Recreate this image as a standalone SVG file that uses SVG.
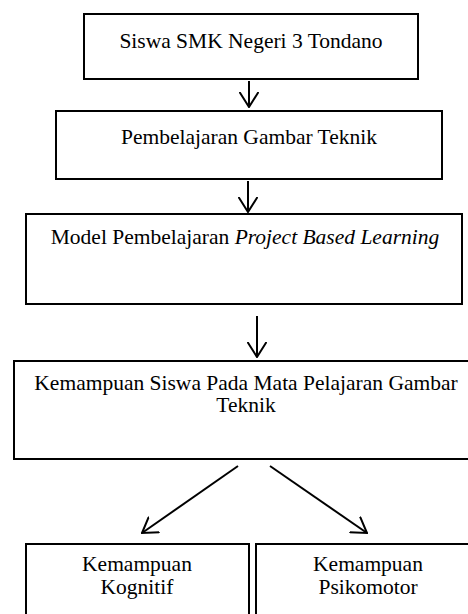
<svg xmlns="http://www.w3.org/2000/svg" width="468" height="614" viewBox="0 0 468 614">
  <defs>
    <style>
      .box { fill: #ffffff; stroke: #000000; stroke-width: 2; }
      .t { font-size: 21.5px; fill: #000000; text-anchor: middle; }
      .conn { stroke: #000000; stroke-width: 2; fill: none; }
    </style>
    <marker id="arr" viewBox="0 0 16 20" refX="15" refY="10" markerWidth="16" markerHeight="20" markerUnits="userSpaceOnUse" orient="auto">
      <path d="M0,0.5 L15,10 L0,19.5" fill="none" stroke="#000" stroke-width="2"/>
    </marker>
  </defs>
  <rect width="468" height="614" fill="#ffffff"/>

  <g font-family="Liberation Serif, DejaVu Serif, serif">
  <g id="n1">
    <rect class="box" x="84" y="14" width="334" height="65"/>
    <text class="t" x="251" y="48">Siswa SMK Negeri 3 Tondano</text>
  </g>
  <g id="n2">
    <rect class="box" x="56" y="111" width="386" height="68"/>
    <text class="t" x="249" y="144">Pembelajaran Gambar Teknik</text>
  </g>
  <g id="n3">
    <rect class="box" x="26" y="214" width="436" height="90"/>
    <text class="t" x="245" y="244">Model Pembelajaran <tspan font-style="italic">Project Based Learning</tspan></text>
  </g>
  <g id="n4">
    <rect class="box" x="14" y="361" width="466" height="98"/>
    <text class="t" x="246" y="390">Kemampuan Siswa Pada Mata Pelajaran Gambar</text>
    <text class="t" x="246" y="412">Teknik</text>
  </g>
  <g id="n5">
    <rect class="box" x="26" y="544" width="223" height="80"/>
    <text class="t" x="137" y="571">Kemampuan</text>
    <text class="t" x="137" y="594">Kognitif</text>
  </g>
  <g id="n6">
    <rect class="box" x="256" y="544" width="224" height="80"/>
    <text class="t" x="368" y="571">Kemampuan</text>
    <text class="t" x="368" y="594">Psikomotor</text>
  </g>
  </g>

  <g id="connectors">
    <line class="conn" x1="249" y1="81" x2="249" y2="107" marker-end="url(#arr)"/>
    <line class="conn" x1="248" y1="181" x2="248" y2="212" marker-end="url(#arr)"/>
    <line class="conn" x1="257" y1="316" x2="257" y2="357" marker-end="url(#arr)"/>
    <line class="conn" x1="238" y1="466" x2="142" y2="533" marker-end="url(#arr)"/>
    <line class="conn" x1="270" y1="466" x2="367" y2="533" marker-end="url(#arr)"/>
  </g>
</svg>
